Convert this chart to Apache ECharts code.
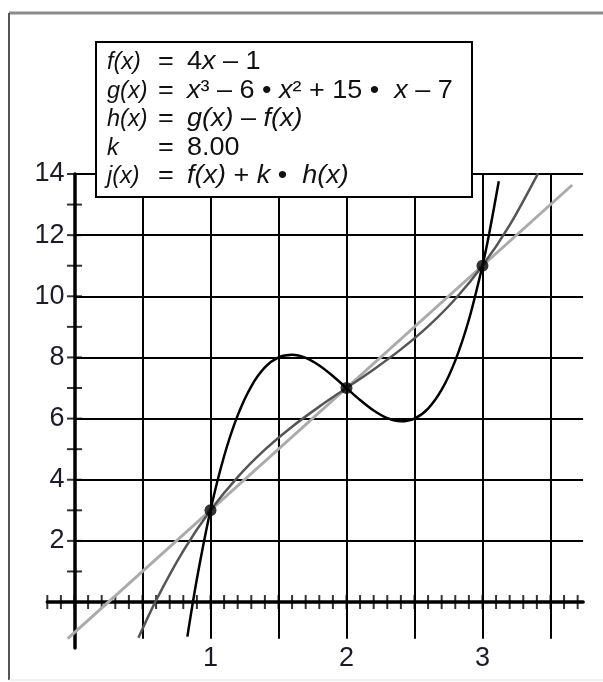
<!DOCTYPE html>
<html><head><meta charset="utf-8">
<script src="https://cdn.jsdelivr.net/npm/echarts@6/dist/echarts.min.js"></script>
<style>html,body{margin:0;padding:0;background:#fff}#c{width:603px;height:682px}</style>
</head><body><div id="c"></div>
<script>
// ---- data ----
const fX = [-0.05, 3.66];
const fY = [-1.2, 13.64];
const gX = [0.47, 0.6, 0.8, 1.0, 1.2, 1.4, 1.6, 1.8, 2.0, 2.2, 2.4, 2.6, 2.8, 3.0, 3.2, 3.41];
const gY = [-1.17, 0.056, 1.672, 3, 4.088, 4.984, 5.736, 6.392, 7, 7.608, 8.264, 9.016, 9.912, 11, 12.328, 14.03];
const jX = [0.83, 0.9, 1.0, 1.1, 1.2, 1.3, 1.4, 1.5, 1.6, 1.7, 1.8, 1.9, 2.0, 2.1, 2.2, 2.3, 2.4, 2.5, 2.6, 2.7, 2.8, 2.9, 3.0, 3.05, 3.12];
const jY = [-1.13, 0.752, 3, 4.768, 6.104, 7.056, 7.672, 8.0, 8.088, 7.984, 7.736, 7.392, 7, 6.608, 6.264, 6.016, 5.912, 6.0, 6.328, 6.944, 7.896, 9.232, 11, 12.061, 13.76];
const pointX = [1, 2, 3];
const pointY = [3, 7, 11];
const xGridValues = [0.5, 1, 1.5, 2, 2.5, 3, 3.5];
const yGridValues = [2, 4, 6, 8, 10, 12, 14];
const xTickValues = [-0.2,-0.1,0,0.1,0.2,0.3,0.4,0.5,0.6,0.7,0.8,0.9,1,1.1,1.2,1.3,1.4,1.5,1.6,1.7,1.8,1.9,2,2.1,2.2,2.3,2.4,2.5,2.6,2.7,2.8,2.9,3,3.1,3.2,3.3,3.4,3.5,3.6,3.7];
const yTickValues = [1,2,3,4,5,6,7,8,9,10,11,12,13,14];
const xTickLabels = [1, 2, 3];
const yTickLabels = [2, 4, 6, 8, 10, 12, 14];
const legendNames = ['{i|f(x)}', '{i|g(x)}', '{i|h(x)}', '{i|k}', '{i|j(x)}'];
const legendRhs = [
  '4{i|x} – 1',
  '{i|x}³ – 6 • {i|x}² + 15 •  {i|x} – 7',
  '{i|g(x)} – {i|f(x)}',
  '8.00',
  '{i|f(x)} + {i|k} •  {i|h(x)}'
];

// ---- chart ----
const FONT = 'Liberation Sans, Arial, sans-serif';
const zip = (xs, ys) => xs.map((x, i) => [x, ys[i]]);
const near = (arr, v) => arr.some(a => Math.abs(a - v) < 1e-6);
const chart = echarts.init(document.getElementById('c'), null, {renderer: 'canvas'});

const gridLines = [];
xGridValues.forEach(x => gridLines.push({coords: [[x, -1.2], [x, 14]]}));
yGridValues.forEach(y => gridLines.push({coords: [[0, y], [3.74, y]]}));

const legendFontSize = 25;
const nameFontSize = 23.5;
const mkRich = fs => ({i: {fontStyle: 'italic', fontSize: fs, fontFamily: FONT, fill: '#111'}});
const lineYs = [62, 91, 119.5, 148, 176.5];
const graphics = [
  {type: 'line', shape: {x1: 9, y1: 13, x2: 603, y2: 13}, style: {stroke: '#8a8a8a', lineWidth: 3}, z: 200},
  {type: 'line', shape: {x1: 9, y1: 13, x2: 9, y2: 680}, style: {stroke: '#555', lineWidth: 2}, z: 200},
  {type: 'line', shape: {x1: 9, y1: 680, x2: 603, y2: 680}, style: {stroke: '#e2e2e2', lineWidth: 1}, z: 200},
  {type: 'rect', shape: {x: 96, y: 42, width: 376, height: 155}, style: {fill: '#fff', stroke: '#000', lineWidth: 2}, z: 200}
];
legendNames.forEach((nm, i) => {
  const common = {fontSize: legendFontSize, fontFamily: FONT, fill: '#111', verticalAlign: 'middle', rich: mkRich(legendFontSize)};
  const nameStyle = {fontSize: nameFontSize, fontFamily: FONT, fill: '#111', verticalAlign: 'middle', rich: mkRich(nameFontSize)};
  graphics.push({type: 'text', z: 201, x: 107, y: lineYs[i], style: Object.assign({x: 0, y: 0, text: nm}, nameStyle)});
  graphics.push({type: 'text', z: 201, x: 158, y: lineYs[i], scaleX: 1.08, style: Object.assign({x: 0, y: 0, text: '='}, common)});
  graphics.push({type: 'text', z: 201, x: 187, y: lineYs[i], scaleX: 1.08, style: Object.assign({x: 0, y: 0, text: legendRhs[i]}, common)});
});

const option = {
  animation: false,
  backgroundColor: '#fff',
  grid: {left: 47.3, right: 19.9, top: 174, bottom: 34.1, containLabel: false, outerBoundsMode: 'none'},
  xAxis: {
    type: 'value', min: -0.2, max: 3.74, interval: 0.1, position: 'bottom', offset: -45.9,
    axisLine: {show: true, onZero: false, lineStyle: {color: '#000', width: 3.5}},
    axisTick: {show: false}, splitLine: {show: false},
    axisLabel: {
      margin: 43, fontSize: 27, fontFamily: FONT, color: '#1b1b2a',
      formatter: v => near(xTickLabels, v) ? String(Math.round(v)) : ''
    }
  },
  yAxis: {
    type: 'value', min: -1.5, max: 14, interval: 0.5, position: 'left', offset: -27.2,
    axisLine: {show: true, onZero: false, lineStyle: {color: '#000', width: 3.5}},
    axisTick: {show: false}, splitLine: {show: false},
    axisLabel: {
      margin: 10, fontSize: 27, fontFamily: FONT, color: '#1b1b2a',
      formatter: v => near(yTickLabels, v) ? String(Math.round(v)) : ''
    }
  },
  series: [
    {type: 'lines', coordinateSystem: 'cartesian2d', silent: true, z: 1,
     lineStyle: {color: '#000', width: 2, opacity: 1}, data: gridLines},
    {type: 'scatter', silent: true, z: 3, symbol: 'rect', symbolSize: [2, 14],
     itemStyle: {color: '#000'}, data: xTickValues.map(x => [x, 0])},
    {type: 'scatter', silent: true, z: 3, symbol: 'rect', symbolSize: [15, 2],
     itemStyle: {color: '#000'}, data: yTickValues.map(y => [0, y])},
    {type: 'line', name: 'f', z: 4, showSymbol: false, lineStyle: {color: '#ababab', width: 3}, data: zip(fX, fY)},
    {type: 'line', name: 'g', z: 5, showSymbol: false, smooth: 0.3, lineStyle: {color: '#555', width: 2.5}, data: zip(gX, gY)},
    {type: 'line', name: 'j', z: 6, showSymbol: false, smooth: 0.3, lineStyle: {color: '#000', width: 2.5}, data: zip(jX, jY)},
    {type: 'scatter', name: 'points', z: 7, symbolSize: 12, itemStyle: {color: '#000'}, data: zip(pointX, pointY)}
  ],
  graphic: graphics
};
chart.setOption(option);
</script>
</body></html>
